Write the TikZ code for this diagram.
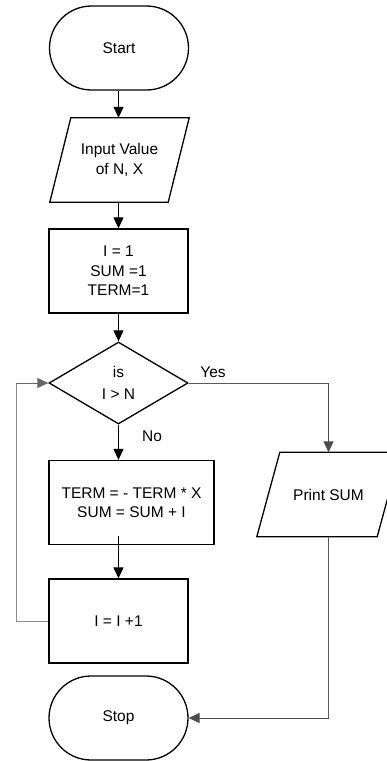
\documentclass[tikz,border=0pt]{standalone}
\usepackage{fontspec}
\setmainfont{Liberation Sans}
\usetikzlibrary{shapes.geometric,arrows.meta}
\begin{document}
\begin{tikzpicture}[x=1pt,y=-1pt,
  every node/.style={font=\fontsize{15.5}{19.5}\selectfont, align=center, inner sep=0pt},
  term/.style={draw=black, line width=1.3pt, rectangle, rounded corners=42pt, minimum width=139pt, minimum height=84pt},
  procbox/.style={draw=black, line width=1.3pt, rectangle, minimum height=84pt},
  iobody/.style={rectangle, minimum height=84pt},
  ioline/.style={draw=black, line width=1.3pt, line join=miter},
  decbox/.style={draw=black, line width=1.3pt, diamond, minimum width=139pt, minimum height=82pt},
  flow/.style={draw=black, line width=1.1pt, -{Triangle[length=11pt,width=10pt]}},
  side/.style={draw=black!65, line width=1pt},
  loopline/.style={draw=black!45, line width=1pt}
]
\useasboundingbox (0,0) rectangle (387,761);
\node[term] (start) at (119,48) {Start};
\node[iobody, minimum width=118pt] (input) at (119.5,160) {Input Value\\ of N, X};
\draw[ioline] ([xshift=-10.5pt]input.south west) -- ([xshift=-10.5pt]input.south east)
  -- ([xshift=10.5pt]input.north east) -- ([xshift=10.5pt]input.north west) -- cycle;
\node[procbox, minimum width=139pt] (init) at (118.5,271) {I = 1\\SUM =1\\TERM=1};
\node[decbox] (dec) at (118.5,383) {is\\[2pt]I > N};
\node[procbox, minimum width=165pt] (calc) at (131.5,502.5) {TERM = - TERM * X\\SUM = SUM + I};
\node[procbox, minimum width=139pt] (inc) at (118.5,621) {I = I +1};
\node[term] (stop) at (118.5,718) {Stop};
\node[iobody, minimum width=120pt] (print) at (328.5,494.5) {Print SUM};
\draw[ioline] ([xshift=-11.5pt]print.south west) -- ([xshift=-11.5pt]print.south east)
  -- ([xshift=11.5pt]print.north east) -- ([xshift=11.5pt]print.north west) -- cycle;
\node (yes) at (213,372) {Yes};
\node (no) at (152,436) {No};
\coordinate (calcout) at (118.5,536);
\coordinate (yescorner) at (print.north |- dec.east);
\coordinate (stopcorner) at (print.south |- stop.east);
\coordinate (loopbot) at (16,621);
\coordinate (looptop) at (16,383);

\draw[flow] (start.south -| init.north) -- (input.north -| init.north);
\draw[flow] (input.south -| init.north) -- (init.north);
\draw[flow] (init.south) -- (dec.north);
\draw[flow] (dec.south) -- (dec.south |- calc.north);
\draw[flow] (calcout) -- (inc.north);
\draw[side] (dec.east) -- (yescorner);
\draw[flow, draw=black!70, line width=1pt] (yescorner) -- (print.north);
\draw[side] (print.south) -- (stopcorner);
\draw[flow, draw=black!70, line width=1pt] (stopcorner) -- (stop.east);
\draw[loopline] (inc.west) -- (loopbot) -- (looptop);
\draw[flow, draw=black!60, line width=1pt] (looptop) -- (dec.west);
\end{tikzpicture}
\end{document}
